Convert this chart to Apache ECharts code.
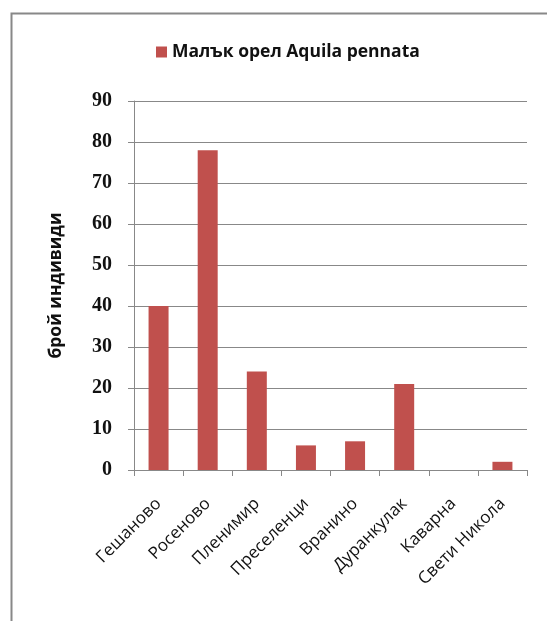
<!DOCTYPE html>
<html><head><meta charset="utf-8">
<script src="https://cdn.jsdelivr.net/npm/echarts@6/dist/echarts.min.js"></script>
<style>html,body{margin:0;padding:0;background:#fff}#c{width:547px;height:621px}</style>
</head><body><div id="c"></div>
<script>
const categories = ['Гешаново','Росеново','Пленимир','Преселенци','Вранино','Дуранкулак','Каварна','Свети Никола'];
const values = [40, 78, 24, 6, 7, 21, 0, 2];
const seriesName = 'Малък орел Aquila pennata';
const yAxisName = 'брой индивиди';

const chart = echarts.init(document.getElementById('c'));
chart.setOption({
  animation: false,
  backgroundColor: '#fff',
  graphic: [{
    type: 'rect', left: 9, top: 11,
    shape: { width: 600, height: 700 },
    style: { fill: 'none', stroke: '#888', lineWidth: 2 }
  }],
  legend: {
    data: [seriesName], top: 38, left: 151,
    itemWidth: 11, itemHeight: 11, itemGap: 4,
    icon: 'rect',
    textStyle: { fontFamily: 'Open Sans', fontSize: 17.5, fontWeight: 'bold', color: '#111' }
  },
  grid: { left: 134, top: 101, right: 20, bottom: 151, containLabel: false },
  xAxis: {
    type: 'category', data: categories,
    axisLine: { lineStyle: { color: '#888' } },
    axisTick: { show: true, length: 6, lineStyle: { color: '#888' } },
    axisLabel: { rotate: 45, margin: 31, fontFamily: 'Open Sans', fontSize: 17, color: '#111', interval: 0 }
  },
  yAxis: {
    type: 'value', min: 0, max: 90, interval: 10,
    name: yAxisName, nameLocation: 'middle', nameGap: 69, nameRotate: 90,
    nameTextStyle: { fontFamily: 'Open Sans', fontSize: 17.5, fontWeight: 'bold', color: '#111' },
    axisLine: { show: true, lineStyle: { color: '#888' } },
    axisTick: { show: true, length: 6, lineStyle: { color: '#888' } },
    splitLine: { lineStyle: { color: '#888' } },
    axisLabel: { margin: 22, fontFamily: 'Liberation Serif', fontWeight: 'bold', fontSize: 20, color: '#111' }
  },
  series: [{
    name: seriesName, type: 'bar', data: values, barWidth: 20,
    itemStyle: { color: '#C0504D' }
  }]
});
</script></body></html>
